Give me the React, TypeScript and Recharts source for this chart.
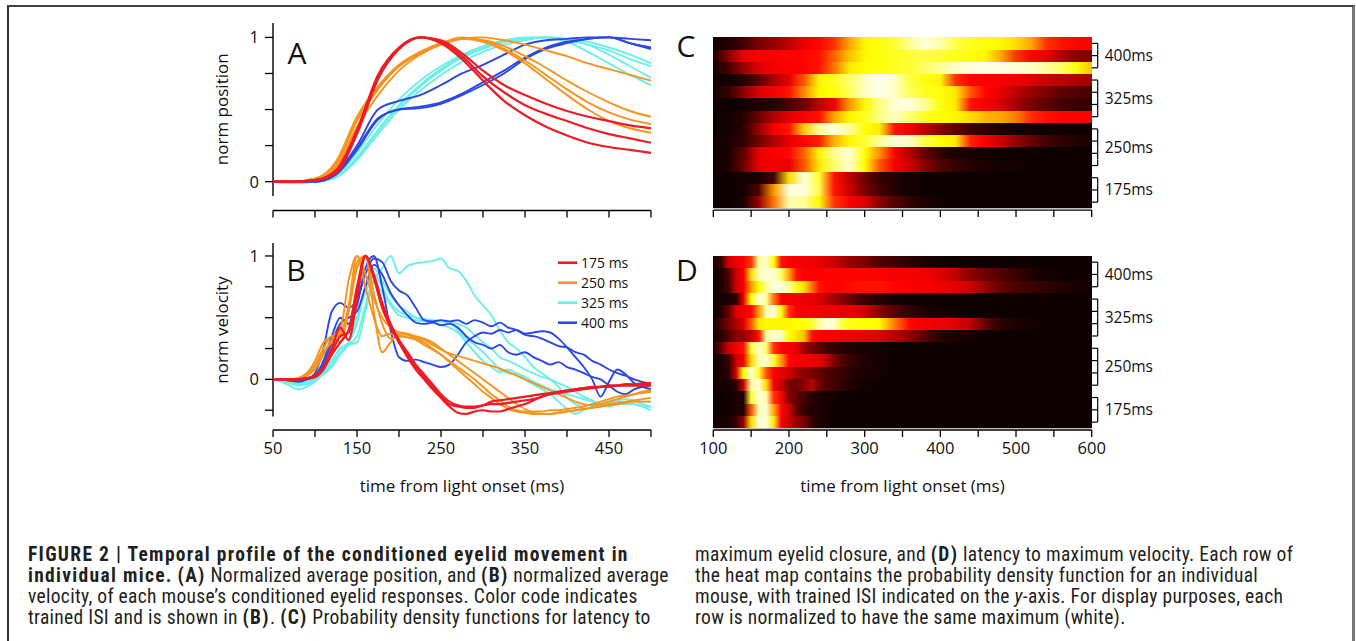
import React from "react";
import { LineChart, Line, XAxis, YAxis, ReferenceLine, ScatterChart, Scatter, ReferenceArea } from "recharts";

const FONT = '"Open Sans", "DejaVu Sans", sans-serif';
const CAPTION_FONT = '"Liberation Sans Narrow", "Roboto Condensed", Roboto, sans-serif';

// ---- line panels (A, B) ----
const isiLabels = ["175 ms", "250 ms", "325 ms", "400 ms"];
const isiColors = ["#ed1c24", "#f7941e", "#6ceee9", "#2b47e6"];
const timeTicks = [50, 100, 150, 200, 250, 300, 350, 400, 450, 500];
const timeLabels = [50, 150, 250, 350, 450];

const posTimes = [50, 75, 100, 125, 150, 175, 200, 225, 250, 275, 300, 325, 350, 375, 400, 425, 450, 475, 500];

const pos175 = [
  [0, 0, 0.01, 0.08, 0.36, 0.74, 0.93, 1.0, 0.98, 0.89, 0.77, 0.67, 0.6, 0.54, 0.49, 0.45, 0.42, 0.39, 0.37],
  [0, 0, 0.01, 0.07, 0.34, 0.72, 0.92, 1.0, 0.97, 0.87, 0.73, 0.62, 0.53, 0.47, 0.42, 0.37, 0.33, 0.3, 0.27],
  [0, 0, 0.01, 0.06, 0.33, 0.71, 0.92, 1.0, 0.96, 0.85, 0.7, 0.56, 0.46, 0.38, 0.32, 0.27, 0.24, 0.22, 0.2],
];
const pos250 = [
  [0, 0, 0.02, 0.13, 0.44, 0.65, 0.8, 0.89, 0.95, 0.99, 1.0, 0.98, 0.95, 0.91, 0.87, 0.82, 0.78, 0.74, 0.7],
  [0, 0, 0.02, 0.14, 0.45, 0.66, 0.81, 0.9, 0.96, 0.99, 0.98, 0.94, 0.87, 0.79, 0.7, 0.62, 0.55, 0.49, 0.45],
  [0, 0, 0.02, 0.12, 0.42, 0.64, 0.8, 0.89, 0.96, 1.0, 0.98, 0.92, 0.84, 0.74, 0.64, 0.55, 0.48, 0.43, 0.4],
  [0, 0, 0.01, 0.1, 0.38, 0.6, 0.77, 0.88, 0.95, 0.99, 0.97, 0.91, 0.82, 0.71, 0.6, 0.5, 0.42, 0.37, 0.34],
];
const pos325 = [
  [0, -0.01, 0, 0.03, 0.17, 0.36, 0.53, 0.67, 0.78, 0.87, 0.93, 0.97, 0.99, 1.0, 0.99, 0.97, 0.93, 0.88, 0.82],
  [0, -0.01, 0, 0.04, 0.2, 0.4, 0.57, 0.7, 0.8, 0.88, 0.94, 0.98, 1.0, 1.0, 0.98, 0.95, 0.91, 0.85, 0.8],
  [0, -0.01, 0, 0.03, 0.15, 0.33, 0.5, 0.63, 0.74, 0.83, 0.9, 0.95, 0.98, 1.0, 0.99, 0.95, 0.88, 0.8, 0.72],
  [0, -0.01, 0, 0.03, 0.16, 0.35, 0.52, 0.66, 0.77, 0.86, 0.92, 0.97, 0.99, 1.0, 0.97, 0.9, 0.82, 0.74, 0.67],
];
const pos400 = [
  [0, 0, 0, 0.06, 0.25, 0.5, 0.56, 0.6, 0.67, 0.75, 0.81, 0.88, 0.95, 0.98, 0.99, 1.0, 1.0, 0.99, 0.98],
  [0, 0, 0, 0.05, 0.23, 0.44, 0.5, 0.52, 0.55, 0.61, 0.69, 0.77, 0.86, 0.93, 0.97, 0.99, 1.0, 0.96, 0.93],
  [0, 0, 0, 0.05, 0.22, 0.43, 0.5, 0.51, 0.54, 0.6, 0.67, 0.75, 0.85, 0.92, 0.96, 0.99, 1.0, 0.96, 0.92],
];

const velTimes = [
  50, 60, 70, 80, 90, 100, 110, 120, 130, 140, 150, 160, 170, 180, 190, 200, 210, 220, 230, 240, 250, 260, 270,
  280, 290, 300, 310, 320, 330, 340, 350, 360, 370, 380, 390, 400, 410, 420, 430, 440, 450, 460, 470, 480, 490, 500,
];

const vel175 = [
  [0, 0, 0, 0, 0.01, 0.03, 0.1, 0.25, 0.42, 0.32, 0.65, 1.0, 0.85, 0.62, 0.45, 0.32, 0.22, 0.12, 0.04, -0.04,
    -0.12, -0.18, -0.21, -0.22, -0.22, -0.21, -0.2, -0.2, -0.19, -0.18, -0.17, -0.16, -0.14, -0.12, -0.11,
    -0.1, -0.09, -0.08, -0.07, -0.06, -0.05, -0.05, -0.04, -0.04, -0.04, -0.04],
  [0, 0, 0, 0, 0.01, 0.02, 0.08, 0.2, 0.3, 0.4, 0.75, 1.0, 0.82, 0.58, 0.42, 0.3, 0.18, 0.08, 0, -0.08,
    -0.15, -0.22, -0.27, -0.28, -0.26, -0.25, -0.26, -0.26, -0.24, -0.22, -0.2, -0.17, -0.14, -0.12, -0.1,
    -0.09, -0.08, -0.07, -0.07, -0.06, -0.06, -0.05, -0.05, -0.05, -0.05, -0.05],
  [0, 0, 0, 0, 0.01, 0.02, 0.09, 0.22, 0.35, 0.38, 0.7, 1.0, 0.84, 0.6, 0.44, 0.3, 0.2, 0.1, 0.02, -0.06,
    -0.14, -0.2, -0.22, -0.23, -0.23, -0.21, -0.18, -0.17, -0.16, -0.15, -0.14, -0.13, -0.12, -0.11, -0.1,
    -0.09, -0.08, -0.07, -0.06, -0.06, -0.05, -0.05, -0.04, -0.04, -0.03, -0.03],
];
const vel250 = [
  [0, 0, 0, 0.01, 0.05, 0.15, 0.3, 0.35, 0.4, 0.8, 1.0, 0.75, 0.5, 0.35, 0.37, 0.36, 0.34, 0.32, 0.28, 0.24,
    0.2, 0.15, 0.1, 0.05, 0, -0.06, -0.12, -0.17, -0.22, -0.25, -0.26, -0.26, -0.26, -0.25, -0.25,
    -0.24, -0.23, -0.22, -0.2, -0.18, -0.16, -0.14, -0.13, -0.12, -0.11, -0.1],
  [0, 0, 0, 0.01, 0.04, 0.12, 0.25, 0.35, 0.3, 0.55, 0.9, 1.0, 0.55, 0.22, 0.3, 0.38, 0.37, 0.35, 0.33, 0.3,
    0.25, 0.2, 0.15, 0.1, 0.05, 0, -0.05, -0.1, -0.15, -0.2, -0.24, -0.27, -0.28, -0.28, -0.27,
    -0.26, -0.25, -0.24, -0.23, -0.22, -0.21, -0.2, -0.19, -0.18, -0.18, -0.18],
  [0, 0, 0, 0.01, 0.03, 0.1, 0.22, 0.3, 0.35, 0.6, 1.0, 0.85, 0.65, 0.5, 0.42, 0.38, 0.36, 0.34, 0.32, 0.28,
    0.24, 0.21, 0.19, 0.17, 0.15, 0.13, 0.11, 0.09, 0.06, 0.03, 0, -0.03, -0.06, -0.09, -0.12,
    -0.15, -0.18, -0.2, -0.21, -0.2, -0.18, -0.16, -0.14, -0.12, -0.1, -0.09],
  [0, 0, 0, 0.01, 0.03, 0.08, 0.2, 0.32, 0.38, 0.55, 0.95, 1.0, 0.7, 0.45, 0.33, 0.35, 0.34, 0.33, 0.3, 0.25,
    0.2, 0.14, 0.08, 0.02, -0.04, -0.1, -0.15, -0.2, -0.24, -0.26, -0.27, -0.28, -0.28, -0.28, -0.27,
    -0.26, -0.25, -0.24, -0.23, -0.22, -0.2, -0.19, -0.18, -0.17, -0.16, -0.15],
];
const vel325 = [
  [0, -0.02, -0.05, -0.08, -0.06, -0.02, 0.05, 0.15, 0.25, 0.28, 0.3, 0.55, 0.8, 0.9, 1.0, 0.86, 0.92, 0.94,
    0.95, 0.96, 0.98, 0.9, 0.88, 0.8, 0.68, 0.6, 0.52, 0.4, 0.3, 0.25, 0.18, 0.1, 0.05, 0, -0.06,
    -0.15, -0.2, -0.22, -0.2, -0.21, -0.22, -0.2, -0.18, -0.18, -0.2, -0.22],
  [0, -0.01, -0.03, -0.05, -0.04, 0, 0.06, 0.15, 0.25, 0.3, 0.45, 0.75, 0.9, 0.8, 0.68, 0.6, 0.55, 0.5, 0.48,
    0.47, 0.47, 0.46, 0.45, 0.42, 0.36, 0.3, 0.25, 0.18, 0.15, 0.12, 0.08, 0.05, 0.02, 0, -0.03,
    -0.06, -0.1, -0.14, -0.17, -0.2, -0.2, -0.2, -0.2, -0.2, -0.22, -0.25],
  [0, -0.01, -0.02, -0.04, -0.03, 0, 0.05, 0.12, 0.22, 0.3, 0.5, 0.7, 0.85, 0.75, 0.62, 0.55, 0.52, 0.5, 0.49,
    0.48, 0.47, 0.47, 0.4, 0.33, 0.28, 0.22, 0.15, 0.08, 0.05, 0.04, 0, -0.04, -0.08, -0.12, -0.18,
    -0.24, -0.28, -0.25, -0.22, -0.2, -0.18, -0.17, -0.16, -0.17, -0.18, -0.18],
  [0, -0.01, -0.02, -0.03, -0.02, 0, 0.04, 0.1, 0.2, 0.28, 0.35, 0.6, 0.8, 0.7, 0.6, 0.52, 0.5, 0.48, 0.47,
    0.46, 0.44, 0.42, 0.38, 0.3, 0.22, 0.15, 0.1, 0.06, 0.08, 0.05, 0.02, -0.02, -0.05, -0.08, -0.1,
    -0.12, -0.14, -0.16, -0.18, -0.2, -0.19, -0.18, -0.19, -0.2, -0.22, -0.22],
];
const vel400 = [
  [0, 0, -0.01, -0.02, 0, 0.05, 0.25, 0.55, 0.62, 0.58, 0.65, 0.85, 0.98, 0.95, 0.8, 0.72, 0.68, 0.58, 0.48,
    0.47, 0.48, 0.47, 0.48, 0.45, 0.48, 0.46, 0.43, 0.46, 0.42, 0.4, 0.36, 0.35, 0.33, 0.3, 0.27,
    0.26, 0.22, 0.2, 0.15, 0.12, 0.08, 0.05, 0.03, 0, -0.02, -0.04],
  [0, 0, -0.01, -0.01, 0, 0.03, 0.15, 0.35, 0.5, 0.45, 0.6, 0.9, 1.0, 0.75, 0.4, 0.18, 0.15, 0.16, 0.14,
    0.12, 0.1, 0.12, 0.2, 0.3, 0.35, 0.38, 0.37, 0.4, 0.38, 0.4, 0.37, 0.38, 0.39, 0.38, 0.33,
    0.26, 0.18, 0.1, 0, -0.14, -0.02, 0.08, 0.04, -0.03, -0.06, -0.08],
  [0, 0, 0, -0.01, 0, 0.02, 0.12, 0.3, 0.45, 0.5, 0.55, 0.75, 0.93, 0.85, 0.7, 0.6, 0.52, 0.46, 0.45,
    0.46, 0.44, 0.45, 0.42, 0.35, 0.3, 0.28, 0.25, 0.28, 0.22, 0.2, 0.22, 0.18, 0.15, 0.12, 0.14,
    0.1, 0.08, 0.05, 0.02, 0, -0.05, -0.1, -0.12, -0.08, -0.06, -0.05],
];

// ---- heat map panels (C, D) ----
const rowIsi = [
  "400ms", "400ms", "400ms", "325ms", "325ms", "325ms", "325ms",
  "250ms", "250ms", "250ms", "250ms", "175ms", "175ms", "175ms",
];
const heatTicks = [100, 150, 200, 250, 300, 350, 400, 450, 500, 550, 600];
const heatLabels = [100, 200, 300, 400, 500, 600];

const cTimes = [100, 120, 140, 160, 180, 200, 220, 240, 260, 280, 300, 320, 340, 360, 380, 400, 420, 440, 460, 480, 500, 520, 540, 560, 580, 600];
const heatC = [
  [3, 5, 10, 18, 22, 28, 35, 38, 45, 62, 74, 76, 80, 90, 96, 92, 82, 78, 76, 74, 70, 62, 45, 40, 38, 38],
  [4, 20, 35, 37, 37, 38, 38, 40, 52, 66, 74, 76, 78, 80, 82, 80, 78, 76, 74, 62, 45, 38, 34, 25, 20, 18],
  [3, 10, 22, 32, 36, 37, 38, 40, 55, 72, 75, 76, 78, 80, 85, 90, 94, 96, 97, 97, 96, 94, 90, 85, 76, 66],
  [2, 3, 5, 14, 25, 34, 50, 74, 78, 86, 94, 98, 94, 82, 76, 74, 45, 38, 37, 36, 35, 32, 30, 28, 26, 24],
  [3, 8, 20, 32, 36, 40, 58, 74, 76, 84, 94, 98, 94, 84, 78, 76, 72, 50, 38, 34, 28, 22, 18, 14, 12, 10],
  [2, 2, 3, 4, 6, 10, 16, 28, 36, 60, 74, 88, 96, 97, 90, 76, 72, 40, 36, 32, 24, 18, 14, 10, 8, 7],
  [2, 3, 6, 16, 26, 33, 37, 40, 62, 74, 78, 88, 94, 86, 78, 76, 74, 70, 64, 62, 56, 44, 40, 38, 38, 37],
  [2, 3, 6, 22, 36, 40, 68, 90, 97, 90, 76, 72, 40, 36, 28, 20, 14, 9, 6, 4, 3, 3, 2, 2, 2, 2],
  [2, 4, 8, 16, 26, 34, 38, 42, 64, 74, 80, 90, 96, 94, 82, 76, 72, 42, 36, 30, 22, 15, 10, 7, 5, 4],
  [2, 4, 14, 34, 37, 38, 52, 74, 90, 96, 76, 58, 37, 26, 14, 7, 4, 3, 3, 2, 2, 2, 2, 2, 2, 2],
  [2, 4, 16, 34, 36, 34, 50, 72, 86, 95, 75, 50, 36, 30, 20, 12, 8, 5, 4, 3, 3, 2, 2, 2, 2, 2],
  [2, 2, 3, 4, 10, 70, 97, 80, 40, 28, 16, 8, 5, 3, 2, 2, 2, 2, 2, 2, 2, 2, 2, 2, 2, 2],
  [2, 2, 3, 12, 60, 96, 97, 82, 40, 30, 18, 10, 5, 3, 2, 2, 2, 2, 2, 2, 2, 2, 2, 2, 2, 2],
  [2, 2, 4, 22, 55, 92, 90, 74, 45, 37, 32, 20, 12, 7, 4, 3, 2, 2, 2, 2, 2, 2, 2, 2, 2, 2],
];

const dTimes = [
  100, 110, 120, 130, 140, 150, 160, 170, 180, 190, 200, 210, 220, 230, 240, 250, 260, 270, 280, 290, 300,
  320, 340, 360, 380, 400, 420, 440, 460, 480, 500, 520, 540, 560, 580, 600,
];
const heatD = [
  [4, 8, 30, 35, 37, 45, 90, 95, 75, 40, 37, 36, 36, 35, 34, 32, 30, 26, 22, 20, 18, 12, 9, 6, 4, 3, 2, 2, 2, 2, 2, 2, 2, 2, 2, 2],
  [3, 4, 12, 30, 36, 70, 92, 96, 95, 85, 62, 40, 37, 37, 37, 38, 38, 38, 38, 38, 38, 37, 36, 36, 35, 33, 28, 20, 16, 12, 8, 5, 3, 2, 2, 2],
  [3, 4, 10, 30, 36, 60, 75, 90, 96, 96, 90, 78, 70, 55, 40, 38, 38, 38, 39, 40, 40, 40, 38, 37, 36, 35, 33, 30, 22, 15, 11, 9, 7, 5, 4, 3],
  [3, 3, 4, 6, 35, 75, 96, 90, 55, 37, 36, 35, 34, 34, 32, 28, 24, 20, 16, 12, 9, 5, 3, 2, 2, 2, 2, 2, 2, 2, 2, 2, 2, 2, 2, 2],
  [3, 5, 14, 32, 35, 38, 60, 92, 96, 75, 45, 37, 36, 36, 36, 35, 35, 34, 34, 33, 30, 20, 13, 7, 4, 3, 2, 2, 2, 2, 2, 2, 2, 2, 2, 2],
  [4, 10, 18, 25, 32, 50, 72, 74, 74, 74, 74, 75, 76, 80, 90, 97, 95, 82, 77, 76, 75, 74, 55, 38, 36, 35, 33, 28, 14, 6, 4, 3, 2, 2, 2, 2],
  [4, 6, 12, 20, 22, 28, 40, 90, 96, 94, 75, 70, 66, 40, 37, 36, 36, 35, 35, 34, 34, 32, 27, 20, 12, 6, 4, 3, 2, 2, 2, 2, 2, 2, 2, 2],
  [5, 14, 30, 36, 40, 80, 95, 85, 45, 38, 36, 34, 24, 18, 14, 10, 8, 6, 5, 4, 4, 3, 2, 2, 2, 2, 2, 2, 2, 2, 2, 2, 2, 2, 2, 2],
  [3, 4, 8, 30, 36, 70, 92, 95, 80, 60, 38, 36, 36, 35, 34, 28, 18, 12, 9, 6, 5, 3, 2, 2, 2, 2, 2, 2, 2, 2, 2, 2, 2, 2, 2, 2],
  [3, 4, 6, 30, 75, 96, 80, 50, 37, 34, 30, 24, 20, 18, 15, 12, 10, 8, 6, 5, 4, 3, 2, 2, 2, 2, 2, 2, 2, 2, 2, 2, 2, 2, 2, 2],
  [3, 3, 4, 6, 30, 90, 96, 70, 36, 30, 18, 16, 20, 28, 16, 12, 10, 7, 5, 4, 3, 2, 2, 2, 2, 2, 2, 2, 2, 2, 2, 2, 2, 2, 2, 2],
  [2, 2, 3, 4, 5, 80, 96, 92, 45, 36, 20, 14, 10, 6, 4, 3, 3, 2, 2, 2, 2, 2, 2, 2, 2, 2, 2, 2, 2, 2, 2, 2, 2, 2, 2, 2],
  [2, 2, 3, 4, 5, 50, 92, 96, 62, 38, 30, 15, 8, 5, 4, 3, 2, 2, 2, 2, 2, 2, 2, 2, 2, 2, 2, 2, 2, 2, 2, 2, 2, 2, 2, 2],
  [2, 3, 4, 8, 22, 70, 95, 96, 72, 36, 30, 22, 18, 8, 4, 3, 2, 2, 2, 2, 2, 2, 2, 2, 2, 2, 2, 2, 2, 2, 2, 2, 2, 2, 2, 2],
];

// matlab "hot" colormap
const hot = (v: number) => {
  const f = Math.max(0, Math.min(1, v / 100));
  const r = Math.min(1, f / 0.375);
  const g = Math.max(0, Math.min(1, (f - 0.375) / 0.375));
  const b = Math.max(0, Math.min(1, (f - 0.75) / 0.25));
  return `rgb(${Math.round(r * 255)},${Math.round(g * 255)},${Math.round(b * 255)})`;
};

const buildRows = (times: number[], groups: number[][][]) =>
  times.map((t, k) => {
    const row: Record<string, number> = { t };
    groups.forEach((g, gi) => g.forEach((s, si) => (row[`s${gi}_${si}`] = s[k])));
    return row;
  });

const posData = buildRows(posTimes, [pos175, pos250, pos325, pos400]);
const velData = buildRows(velTimes, [vel175, vel250, vel325, vel400]);
const drawOrder = [2, 3, 1, 0];
const groupSizes = [3, 4, 4, 3];

const rowCount = rowIsi.length;
const rowCenters = rowIsi.map((_, i) => rowCount - 0.5 - i);
const rowAnchors = rowCenters.map((y) => ({ x: 100, y }));

const yTitle = (text: string, dy: number) => (props: any) => {
  const vb = props.viewBox;
  const cx = vb.x + 8;
  const cy = vb.y + vb.height / 2 + dy;
  return (
    <text x={cx} y={cy} transform={`rotate(-90 ${cx} ${cy})`} textAnchor="middle" dominantBaseline="central"
      fontSize={17} fontFamily={FONT} fill="#111">
      {text}
    </text>
  );
};

const xTitle = (text: string) => (props: any) => {
  const vb = props.viewBox;
  return (
    <text x={vb.x + vb.width / 2} y={vb.y + 55} textAnchor="middle" dominantBaseline="central"
      fontSize={17} fontFamily={FONT} fill="#111">
      {text}
    </text>
  );
};

function BracketTick(props: any) {
  const { x, y, payload, rowPx } = props;
  const i = Math.round(rowCount - 0.5 - payload.value);
  const g = rowIsi[i];
  const members = rowIsi.map((s, k) => (s === g ? k : -1)).filter((k) => k >= 0);
  const first = members[0] === i;
  const last = members[members.length - 1] === i;
  const mid = members[Math.floor((members.length - 1) / 2)];
  const bx = x + 6;
  const ly = y + (members.length % 2 === 0 ? rowPx / 2 : 0);
  return (
    <g>
      <line x1={x} y1={y} x2={bx} y2={y} stroke="#000" strokeWidth={1.2} />
      <line x1={bx} y1={first ? y : y - rowPx / 2} x2={bx} y2={last ? y : y + rowPx / 2} stroke="#000" strokeWidth={1.2} />
      {mid === i && (
        <text x={bx + 7} y={ly} dy="0.35em" fontSize={15.5} fontFamily={FONT} fill="#111">
          {g}
        </text>
      )}
    </g>
  );
}

const tickStyle = { fill: "#111", fontSize: 16.5, fontFamily: FONT };

function LinePanel(props: { data: any[]; domain: number[]; spine: number[]; yTicks: number[]; title: string; titleDy: number; showX: boolean; height: number; top: number; bottom: number; xHeight: number }) {
  const { data, domain, spine, yTicks, title, titleDy, showX, height, top, bottom, xHeight } = props;
  return (
    <LineChart width={560} height={height} data={data} margin={{ top, right: 59, left: 63, bottom }}>
      <XAxis dataKey="t" type="number" domain={[50, 500]} ticks={timeTicks} interval={0}
        tickFormatter={(v) => (showX && timeLabels.includes(v) ? String(v) : "")}
        tickSize={7} tickMargin={5} height={xHeight} stroke="#000" strokeWidth={1.3} tick={tickStyle}
        label={showX ? xTitle("time from light onset (ms)") : undefined} />
      <YAxis type="number" domain={domain} ticks={yTicks} interval={0} allowDataOverflow
        tickFormatter={(v) => (v === 0 || v === 1 ? String(v) : "")}
        tickSize={8} tickMargin={6} width={60} axisLine={false} stroke="#000" strokeWidth={1.3} tick={tickStyle}
        label={yTitle(title, titleDy)} />
      <ReferenceLine segment={[{ x: 50, y: spine[0] }, { x: 50, y: spine[1] }]} stroke="#000" strokeWidth={1.4} />
      {drawOrder.map((gi) =>
        Array.from({ length: groupSizes[gi] }).map((_, si) => (
          <Line key={`s${gi}_${si}`} dataKey={`s${gi}_${si}`} type="monotone" stroke={isiColors[gi]}
            strokeWidth={gi === 0 ? 2.2 : 1.9} dot={false} isAnimationActive={false} />
        ))
      )}
    </LineChart>
  );
}

function HeatPanel(props: { id: string; rows: number[][]; showX: boolean; height: number; top: number; bottom: number; xHeight: number; yMin: number }) {
  const { id, rows, showX, height, top, bottom, xHeight, yMin } = props;
  const rowPx = (height - top - bottom - xHeight) / (rowCount - yMin);
  return (
    <ScatterChart width={600} height={height} margin={{ top, right: 78.3, left: 73.3, bottom }}>
      <XAxis dataKey="x" type="number" domain={[100, 600]} ticks={heatTicks} interval={0} allowDataOverflow
        tickFormatter={(v) => (showX && heatLabels.includes(v) ? String(v) : "")}
        tickSize={7} tickMargin={5} height={xHeight} stroke="#000" strokeWidth={1.3} tick={tickStyle}
        label={showX ? xTitle("time from light onset (ms)") : undefined} />
      <YAxis dataKey="y" type="number" orientation="right" domain={[yMin, rowCount]} ticks={rowCenters} interval={0}
        allowDataOverflow width={70} axisLine={false} tickLine={false} tickSize={0} tickMargin={0}
        tick={<BracketTick rowPx={rowPx} />} />
      <ReferenceArea x1={100} x2={600} y1={0} y2={rowCount} fill="#0b0606" fillOpacity={1} stroke="none" />
      {rows.map((_, i) => (
        <ReferenceArea key={i} x1={100} x2={600} y1={rowCount - 1 - i} y2={rowCount - i}
          fill={`url(#${id}${i})`} fillOpacity={1} stroke="none" shapeRendering="crispEdges" />
      ))}
      <Scatter data={rowAnchors} shape={() => <g />} isAnimationActive={false} />
    </ScatterChart>
  );
}

const Gradients = () => (
  <svg width={0} height={0} style={{ position: "absolute" }}>
    <defs>
      {[
        { id: "heatC", rows: heatC, times: cTimes },
        { id: "heatD", rows: heatD, times: dTimes },
      ].map((set) =>
        set.rows.map((row, i) => (
          <linearGradient key={`${set.id}${i}`} id={`${set.id}${i}`} x1="0" y1="0" x2="1" y2="0">
            {row.map((v, k) => (
              <stop key={k} offset={(set.times[k] - 100) / 500} stopColor={hot(v)} />
            ))}
          </linearGradient>
        ))
      )}
    </defs>
  </svg>
);

const B = (p: { children: React.ReactNode }) => <b style={{ fontWeight: 700, letterSpacing: "1.3px" }}>{p.children}</b>;

const captionStyle: React.CSSProperties = {
  position: "absolute", top: 544, fontFamily: CAPTION_FONT, fontSize: 19.5, lineHeight: "21px",
  color: "#231f20", whiteSpace: "nowrap", letterSpacing: "0.3px",
};

export default function App() {
  return (
    <div style={{ position: "absolute", left: 0, top: 0, width: 1356, height: 641, background: "#fff", overflow: "hidden" }}>
      <Gradients />
      <div style={{ position: "absolute", left: 7, top: 5, width: 1343, height: 700, borderTop: "2px solid #444", borderLeft: "2px solid #333", borderRight: "3px solid #777" }} />

      <div style={{ position: "absolute", left: 150, top: 0 }}>
        <LinePanel data={posData} domain={[-0.2, 1.1]} spine={[-0.1, 1.1]} yTicks={[0, 0.25, 0.5, 0.75, 1]}
          title="norm position" titleDy={-7.5} showX={false} height={260} top={23} bottom={9.5} xHeight={40} />
      </div>
      <div style={{ position: "absolute", left: 150, top: 230 }}>
        <LinePanel data={velData} domain={[-0.41, 1.105]} spine={[-0.3, 1.105]} yTicks={[-0.25, 0, 0.25, 0.5, 0.75, 1]}
          title="norm velocity" titleDy={-6.5} showX={true} height={280} top={13} bottom={20} xHeight={60} />
      </div>
      <div style={{ position: "absolute", left: 640, top: 0 }}>
        <HeatPanel id="heatC" rows={heatC} showX={false} height={260} top={37.3} bottom={9.9} xHeight={40} yMin={-0.15} />
      </div>
      <div style={{ position: "absolute", left: 640, top: 230 }}>
        <HeatPanel id="heatD" rows={heatD} showX={true} height={280} top={26} bottom={20} xHeight={60} yMin={-0.14} />
      </div>

      {/* legend for panel B */}
      <svg style={{ position: "absolute", left: 550, top: 250 }} width={110} height={85}>
        {isiLabels.map((lab, i) => (
          <g key={lab}>
            <line x1={8} x2={27} y1={12.7 + i * 20} y2={12.7 + i * 20} stroke={isiColors[i]} strokeWidth={2.6} />
            <text x={31} y={12.7 + i * 20} dominantBaseline="central" fontSize={14} fontFamily={FONT} fill="#111">{lab}</text>
          </g>
        ))}
      </svg>

      {/* panel letters */}
      <svg style={{ position: "absolute", left: 0, top: 0, pointerEvents: "none" }} width={1356} height={641}>
        {[["A", 297, 52], ["B", 296, 269.5], ["C", 686, 45], ["D", 687, 269]].map(([l, x, y]) => (
          <text key={l as string} x={x as number} y={y as number} textAnchor="middle" dominantBaseline="central"
            fontSize={30} fontFamily={FONT} fill="#111">{l}</text>
        ))}
      </svg>

      {/* caption */}
      <div style={{ ...captionStyle, left: 28 }}>
        <B>FIGURE 2 | Temporal profile of the conditioned eyelid movement in</B><br />
        <B>individual mice.</B> <B>(A)</B> Normalized average position, and <B>(B)</B> normalized average<br />
        velocity, of each mouse’s conditioned eyelid responses. Color code indicates<br />
        trained ISI and is shown in <B>(B)</B>. <B>(C)</B> Probability density functions for latency to
      </div>
      <div style={{ ...captionStyle, left: 695 }}>
        maximum eyelid closure, and <B>(D)</B> latency to maximum velocity. Each row of<br />
        the heat map contains the probability density function for an individual<br />
        mouse, with trained ISI indicated on the <i>y</i>-axis. For display purposes, each<br />
        row is normalized to have the same maximum (white).
      </div>
    </div>
  );
}
